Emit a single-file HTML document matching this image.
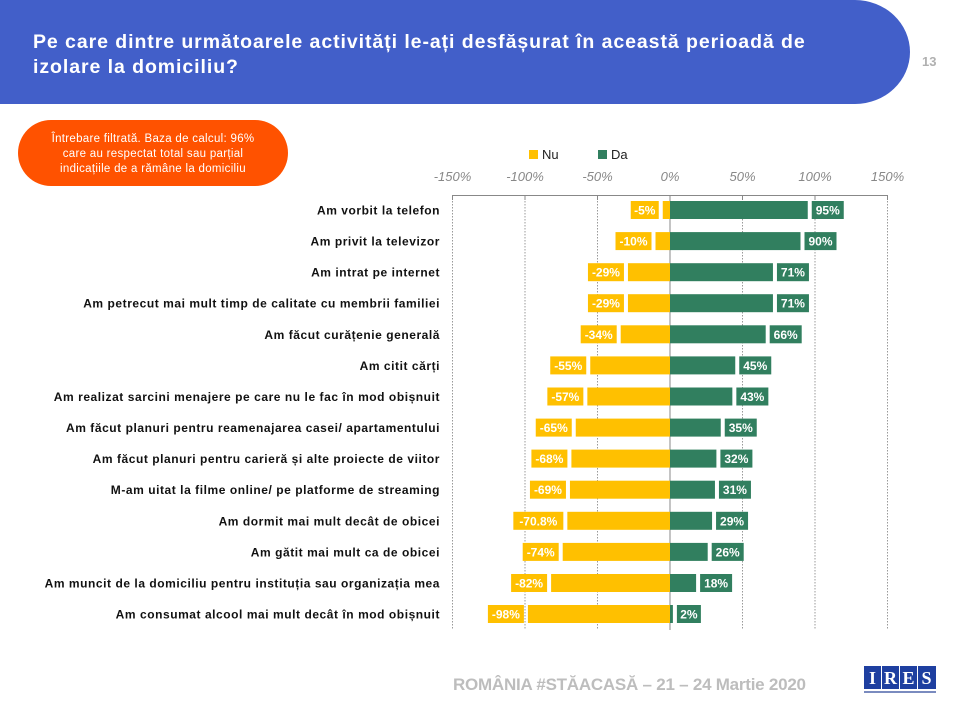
<!DOCTYPE html>
<html><head><meta charset="utf-8"><style>
html,body{margin:0;padding:0;background:#fff;}
body{width:960px;height:720px;overflow:hidden;position:relative;font-family:"Liberation Sans",sans-serif;}
</style></head><body>
<svg width="960" height="720" xmlns="http://www.w3.org/2000/svg" style="position:absolute;left:0;top:0" font-family="Liberation Sans, sans-serif">
<path d="M0 0 H855 A55 52 0 0 1 910 52 A55 52 0 0 1 855 104 H0 Z" fill="#425FC9"/>
<text x="33" y="48" fill="#fff" font-size="19.5" font-weight="bold" letter-spacing="0.93">Pe care dintre următoarele activități le-ați desfășurat în această perioadă de</text>
<text x="33" y="73" fill="#fff" font-size="19.5" font-weight="bold" letter-spacing="0.93">izolare la domiciliu?</text>
<text x="922" y="66" fill="#b0b0b0" font-size="13" font-weight="bold">13</text>
<rect x="18" y="120" width="270" height="66" rx="33" fill="#FF5200"/>
<g fill="#fff" font-size="11.5" text-anchor="middle" letter-spacing="0.3">
<text x="153" y="142">Întrebare filtrată. Baza de calcul: 96%</text>
<text x="153" y="157">care au respectat total sau parțial</text>
<text x="153" y="172">indicațiile de a rămâne la domiciliu</text>
</g>
<rect x="529" y="150" width="9" height="9" fill="#FFC000"/>
<text x="542" y="159" font-size="13" fill="#222">Nu</text>
<rect x="598" y="150" width="9" height="9" fill="#317F5F"/>
<text x="611" y="159" font-size="13" fill="#222">Da</text>
<g fill="#888" font-size="13" font-style="italic" text-anchor="middle">
<text x="452.5" y="181">-150%</text><text x="525" y="181">-100%</text><text x="597.5" y="181">-50%</text><text x="670" y="181">0%</text><text x="742.5" y="181">50%</text><text x="815" y="181">100%</text><text x="887.5" y="181">150%</text>
</g>
<g stroke="#999" stroke-width="1" stroke-dasharray="1.5,1.5">
<line x1="452.5" y1="195" x2="452.5" y2="630"/><line x1="525" y1="195" x2="525" y2="630"/><line x1="597.5" y1="195" x2="597.5" y2="630"/><line x1="742.5" y1="195" x2="742.5" y2="630"/><line x1="815" y1="195" x2="815" y2="630"/><line x1="887.5" y1="195" x2="887.5" y2="630"/>
</g>
<g stroke="#888" stroke-width="1">
<line x1="452" y1="195.5" x2="888" y2="195.5"/>
<line x1="452.5" y1="195" x2="452.5" y2="200"/><line x1="525" y1="195" x2="525" y2="200"/><line x1="597.5" y1="195" x2="597.5" y2="200"/><line x1="742.5" y1="195" x2="742.5" y2="200"/><line x1="815" y1="195" x2="815" y2="200"/><line x1="887.5" y1="195" x2="887.5" y2="200"/>
<line x1="670" y1="195" x2="670" y2="630"/>
</g>
<g fill="#FFC000">
<rect x="662.75" y="201" width="7.25" height="18"/>
<rect x="655.5" y="232.1" width="14.5" height="18"/>
<rect x="627.95" y="263.2" width="42.05" height="18"/>
<rect x="627.95" y="294.2" width="42.05" height="18"/>
<rect x="620.7" y="325.3" width="49.3" height="18"/>
<rect x="590.25" y="356.4" width="79.75" height="18"/>
<rect x="587.35" y="387.5" width="82.65" height="18"/>
<rect x="575.75" y="418.6" width="94.25" height="18"/>
<rect x="571.4" y="449.6" width="98.6" height="18"/>
<rect x="569.95" y="480.7" width="100.05" height="18"/>
<rect x="567.34" y="511.8" width="102.66" height="18"/>
<rect x="562.7" y="542.9" width="107.3" height="18"/>
<rect x="551.1" y="574" width="118.9" height="18"/>
<rect x="527.9" y="605" width="142.1" height="18"/>
<rect x="630.75" y="201" width="28" height="18"/>
<rect x="615.5" y="232.1" width="36" height="18"/>
<rect x="587.95" y="263.2" width="36" height="18"/>
<rect x="587.95" y="294.2" width="36" height="18"/>
<rect x="580.7" y="325.3" width="36" height="18"/>
<rect x="550.25" y="356.4" width="36" height="18"/>
<rect x="547.35" y="387.5" width="36" height="18"/>
<rect x="535.75" y="418.6" width="36" height="18"/>
<rect x="531.4" y="449.6" width="36" height="18"/>
<rect x="529.95" y="480.7" width="36" height="18"/>
<rect x="513.34" y="511.8" width="50" height="18"/>
<rect x="522.7" y="542.9" width="36" height="18"/>
<rect x="511.1" y="574" width="36" height="18"/>
<rect x="487.9" y="605" width="36" height="18"/>
</g>
<g fill="#317F5F">
<rect x="670" y="201" width="137.75" height="18"/>
<rect x="670" y="232.1" width="130.5" height="18"/>
<rect x="670" y="263.2" width="102.95" height="18"/>
<rect x="670" y="294.2" width="102.95" height="18"/>
<rect x="670" y="325.3" width="95.7" height="18"/>
<rect x="670" y="356.4" width="65.25" height="18"/>
<rect x="670" y="387.5" width="62.35" height="18"/>
<rect x="670" y="418.6" width="50.75" height="18"/>
<rect x="670" y="449.6" width="46.4" height="18"/>
<rect x="670" y="480.7" width="44.95" height="18"/>
<rect x="670" y="511.8" width="42.05" height="18"/>
<rect x="670" y="542.9" width="37.7" height="18"/>
<rect x="670" y="574" width="26.1" height="18"/>
<rect x="670" y="605" width="2.9" height="18"/>
<rect x="811.75" y="201" width="32" height="18"/>
<rect x="804.5" y="232.1" width="32" height="18"/>
<rect x="776.95" y="263.2" width="32" height="18"/>
<rect x="776.95" y="294.2" width="32" height="18"/>
<rect x="769.7" y="325.3" width="32" height="18"/>
<rect x="739.25" y="356.4" width="32" height="18"/>
<rect x="736.35" y="387.5" width="32" height="18"/>
<rect x="724.75" y="418.6" width="32" height="18"/>
<rect x="720.4" y="449.6" width="32" height="18"/>
<rect x="718.95" y="480.7" width="32" height="18"/>
<rect x="716.05" y="511.8" width="32" height="18"/>
<rect x="711.7" y="542.9" width="32" height="18"/>
<rect x="700.1" y="574" width="32" height="18"/>
<rect x="676.9" y="605" width="24" height="18"/>
</g>
<g fill="#fff" font-size="12" font-weight="bold" text-anchor="middle">
<text x="644.75" y="214.5">-5%</text>
<text x="633.5" y="245.6">-10%</text>
<text x="605.95" y="276.7">-29%</text>
<text x="605.95" y="307.7">-29%</text>
<text x="598.7" y="338.8">-34%</text>
<text x="568.25" y="369.9">-55%</text>
<text x="565.35" y="401">-57%</text>
<text x="553.75" y="432.1">-65%</text>
<text x="549.4" y="463.1">-68%</text>
<text x="547.95" y="494.2">-69%</text>
<text x="538.34" y="525.3">-70.8%</text>
<text x="540.7" y="556.4">-74%</text>
<text x="529.1" y="587.5">-82%</text>
<text x="505.9" y="618.5">-98%</text>
<text x="827.75" y="214.5">95%</text>
<text x="820.5" y="245.6">90%</text>
<text x="792.95" y="276.7">71%</text>
<text x="792.95" y="307.7">71%</text>
<text x="785.7" y="338.8">66%</text>
<text x="755.25" y="369.9">45%</text>
<text x="752.35" y="401">43%</text>
<text x="740.75" y="432.1">35%</text>
<text x="736.4" y="463.1">32%</text>
<text x="734.95" y="494.2">31%</text>
<text x="732.05" y="525.3">29%</text>
<text x="727.7" y="556.4">26%</text>
<text x="716.1" y="587.5">18%</text>
<text x="688.9" y="618.5">2%</text>
</g>
<g fill="#111" font-size="12" font-weight="bold" text-anchor="end" letter-spacing="0.55">
<text x="440" y="214.5">Am vorbit la telefon</text>
<text x="440" y="245.6">Am privit la televizor</text>
<text x="440" y="276.7">Am intrat pe internet</text>
<text x="440" y="307.7">Am petrecut mai mult timp de calitate cu membrii familiei</text>
<text x="440" y="338.8">Am făcut curățenie generală</text>
<text x="440" y="369.9">Am citit cărți</text>
<text x="440" y="401">Am realizat sarcini menajere pe care nu le fac în mod obișnuit</text>
<text x="440" y="432.1">Am făcut planuri pentru reamenajarea casei/ apartamentului</text>
<text x="440" y="463.1">Am făcut planuri pentru carieră și alte proiecte de viitor</text>
<text x="440" y="494.2">M-am uitat la filme online/ pe platforme de streaming</text>
<text x="440" y="525.3">Am dormit mai mult decât de obicei</text>
<text x="440" y="556.4">Am gătit mai mult ca de obicei</text>
<text x="440" y="587.5">Am muncit de la domiciliu pentru instituția sau organizația mea</text>
<text x="440" y="618.5">Am consumat alcool mai mult decât în mod obișnuit</text>
</g>
<text x="453" y="690" fill="#bdbdbd" font-size="17" font-weight="bold" textLength="353">ROMÂNIA #STĂACASĂ – 21 – 24 Martie  2020</text>
<g>
<rect x="864" y="666" width="72" height="23" fill="#1E3FA0"/>
<g fill="#fff"><rect x="881" y="666" width="1" height="23"/><rect x="899" y="666" width="1" height="23"/><rect x="917" y="666" width="1" height="23"/></g>
<g fill="#fff" font-family="Liberation Serif, serif" font-size="18" font-weight="bold" text-anchor="middle">
<text x="872.5" y="684">I</text><text x="890.5" y="684">R</text><text x="908.5" y="684">E</text><text x="926.5" y="684">S</text>
</g>
<rect x="864" y="691" width="72" height="2" fill="#7a8bbf"/>
</g>
</svg>
</body></html>
